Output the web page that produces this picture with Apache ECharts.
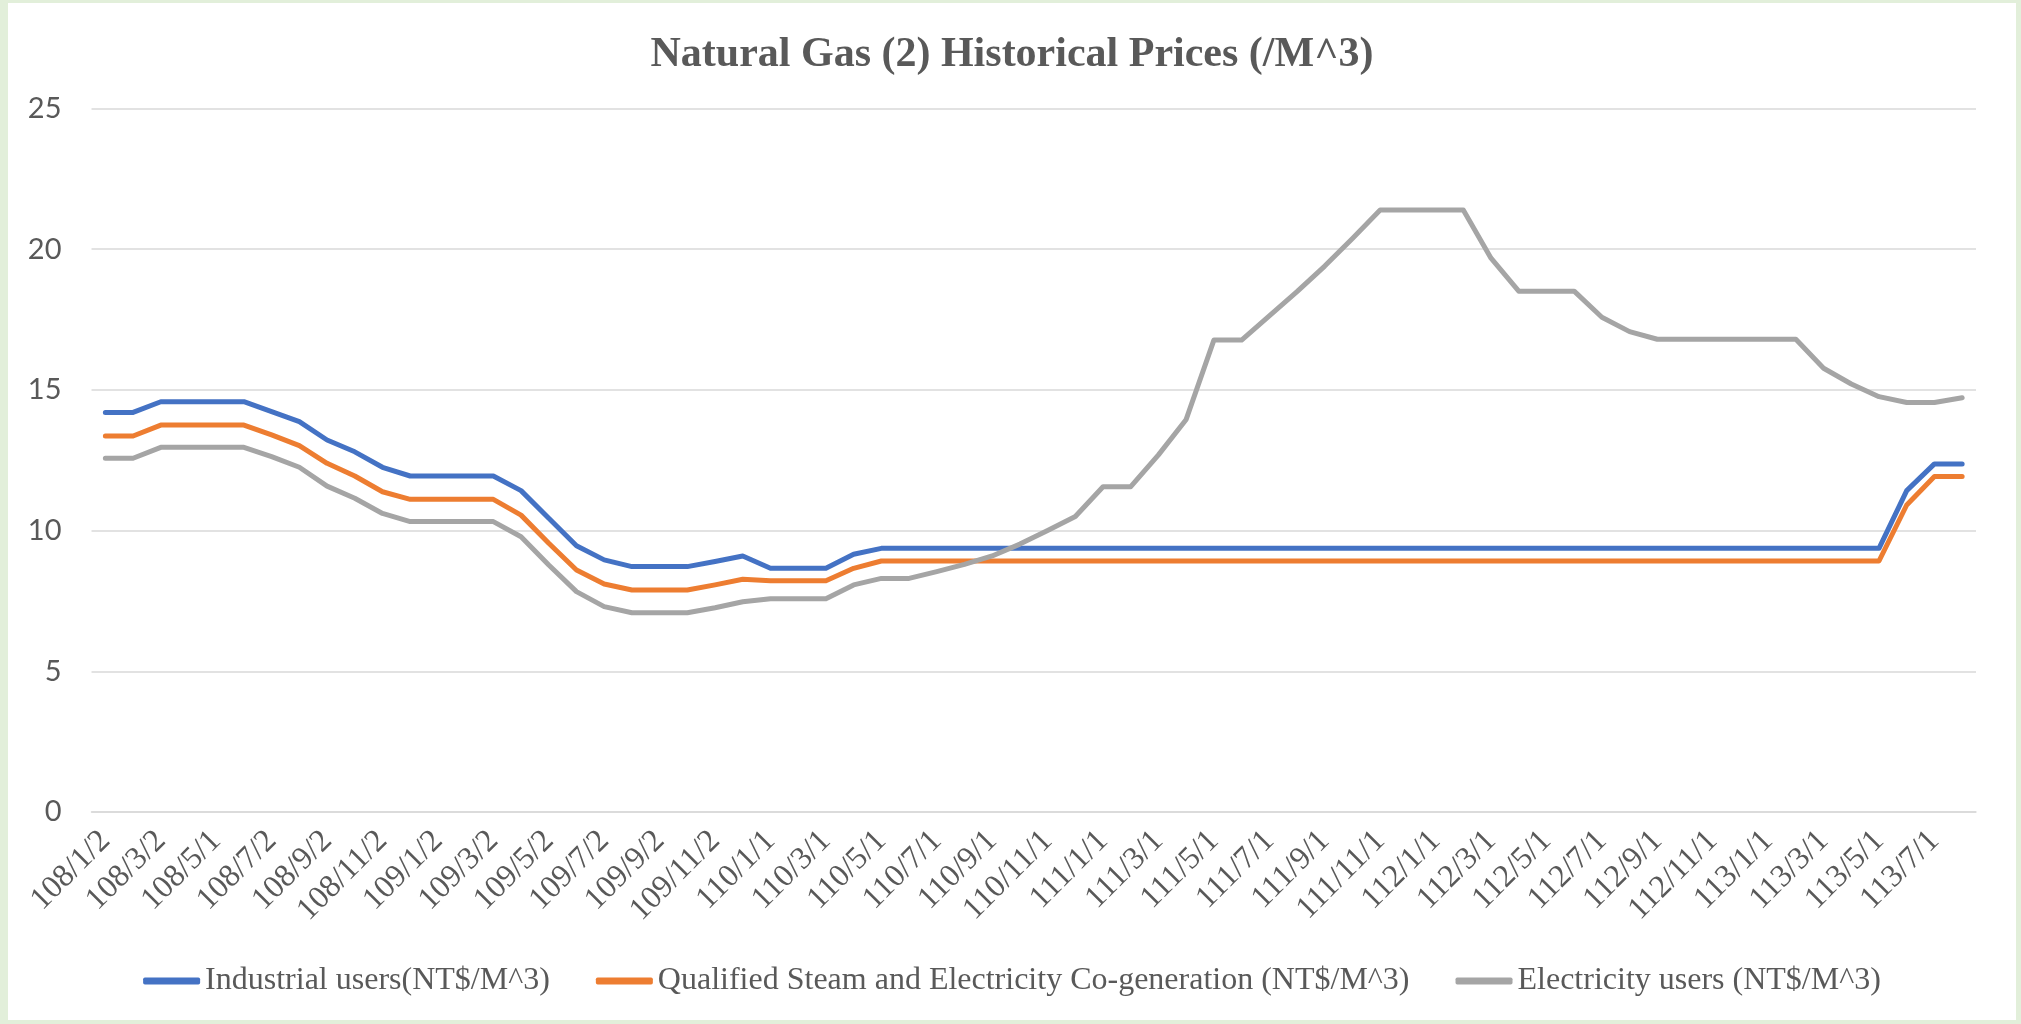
<!DOCTYPE html>
<html>
<head>
<meta charset="utf-8">
<title>Natural Gas (2) Historical Prices</title>
<script src="https://cdn.jsdelivr.net/npm/echarts@6/dist/echarts.min.js"></script>
<style>
  html, body { margin: 0; padding: 0; background: #e2efda; }
  #wrap { position: relative; width: 2021px; height: 1024px; }
  #chart { position: absolute; left: 8px; top: 3px; width: 2008px; height: 1017px; background: #fff; }
</style>
</head>
<body>
<div id="wrap"><div id="chart"></div></div>
<script>
// months, ROC calendar (108 = 2019)
const months = [
  '108/1/2', '108/2/1', '108/3/2', '108/4/1', '108/5/1', '108/6/1', '108/7/2', '108/8/1', '108/9/2', '108/10/1', '108/11/2', '108/12/2',
  '109/1/2', '109/2/1', '109/3/2', '109/4/1', '109/5/2', '109/6/1', '109/7/2', '109/8/1', '109/9/2', '109/10/1', '109/11/2', '109/12/1',
  '110/1/1', '110/2/1', '110/3/1', '110/4/1', '110/5/1', '110/6/1', '110/7/1', '110/8/1', '110/9/1', '110/10/1', '110/11/1', '110/12/1',
  '111/1/1', '111/2/1', '111/3/1', '111/4/1', '111/5/1', '111/6/1', '111/7/1', '111/8/1', '111/9/1', '111/10/1', '111/11/1', '111/12/1',
  '112/1/1', '112/2/1', '112/3/1', '112/4/1', '112/5/1', '112/6/1', '112/7/1', '112/8/1', '112/9/1', '112/10/1', '112/11/1', '112/12/1',
  '113/1/1', '113/2/1', '113/3/1', '113/4/1', '113/5/1', '113/6/1', '113/7/1', '113/8/1'
];

const industrial = [
  14.2, 14.2, 14.58, 14.58, 14.58, 14.58, 14.23, 13.87, 13.22, 12.8,
  12.25, 11.94, 11.94, 11.94, 11.94, 11.42, 10.44, 9.46, 8.96, 8.72,
  8.72, 8.72, 8.9, 9.1, 8.66, 8.66, 8.66, 9.16, 9.37, 9.37,
  9.37, 9.37, 9.37, 9.37, 9.37, 9.37, 9.37, 9.37, 9.37, 9.37,
  9.37, 9.37, 9.37, 9.37, 9.37, 9.37, 9.37, 9.37, 9.37, 9.37,
  9.37, 9.37, 9.37, 9.37, 9.37, 9.37, 9.37, 9.37, 9.37, 9.37,
  9.37, 9.37, 9.37, 9.37, 9.37, 11.42, 12.37, 12.37
];

const cogeneration = [
  13.36, 13.36, 13.75, 13.75, 13.75, 13.75, 13.4, 13.02, 12.39, 11.94,
  11.38, 11.11, 11.11, 11.11, 11.11, 10.55, 9.55, 8.6, 8.1, 7.89,
  7.89, 7.89, 8.07, 8.27, 8.22, 8.22, 8.22, 8.66, 8.92, 8.92,
  8.92, 8.92, 8.92, 8.92, 8.92, 8.92, 8.92, 8.92, 8.92, 8.92,
  8.92, 8.92, 8.92, 8.92, 8.92, 8.92, 8.92, 8.92, 8.92, 8.92,
  8.92, 8.92, 8.92, 8.92, 8.92, 8.92, 8.92, 8.92, 8.92, 8.92,
  8.92, 8.92, 8.92, 8.92, 8.92, 10.91, 11.92, 11.92
];

const electricity = [
  12.57, 12.57, 12.96, 12.96, 12.96, 12.96, 12.63, 12.25, 11.58, 11.15,
  10.61, 10.32, 10.32, 10.32, 10.32, 9.78, 8.78, 7.83, 7.3, 7.08,
  7.08, 7.08, 7.26, 7.47, 7.58, 7.58, 7.58, 8.07, 8.3, 8.3,
  8.54, 8.8, 9.1, 9.52, 10.0, 10.5, 11.56, 11.56, 12.69, 13.95,
  16.77, 16.77, 17.63, 18.49, 19.4, 20.38, 21.39, 21.39, 21.39, 21.39,
  19.68, 18.51, 18.51, 18.51, 17.58, 17.07, 16.8, 16.8, 16.8, 16.8,
  16.8, 16.8, 15.77, 15.21, 14.76, 14.55, 14.55, 14.72
];

const seriesNames = [
  'Industrial users(NT$/M^3)',
  'Qualified Steam and Electricity Co-generation (NT$/M^3)',
  'Electricity users (NT$/M^3)'
];
const colors = ['#4472c4', '#ed7d31', '#a5a5a5'];

const chart = echarts.init(document.getElementById('chart'));

function lineSeries(name, data, color) {
  return {
    name: name,
    type: 'line',
    data: data,
    symbol: 'none',
    // no smoothing, excel style straight segments
    lineStyle: { color: color, width: 5, cap: 'round', join: 'round' },
    itemStyle: { color: color },
    emphasis: { disabled: true }
  };
}

const option = {
  animation: false,
  color: colors,
  title: {
    text: 'Natural Gas (2) Historical Prices (/M^3)',
    left: 'center',
    top: 26,
    textStyle: {
      fontFamily: 'Liberation Serif',
      fontWeight: 'bold',
      fontSize: 42,
      color: '#595959'
    }
  },
  legend: {
    bottom: 18,
    left: 'center',
    icon: 'roundRect',
    itemWidth: 57,
    itemHeight: 7,
    itemGap: 46,
    textStyle: {
      fontFamily: 'Liberation Serif',
      fontSize: 32,
      color: '#595959'
    },
    data: seriesNames
  },
  grid: {
    left: 83.5,
    right: 40,
    top: 105.5,
    bottom: 208,
    containLabel: false
  },
  xAxis: {
    type: 'category',
    data: months,
    boundaryGap: true,
    axisLine: { show: true, lineStyle: { color: '#d9d9d9', width: 1.5 } },
    axisTick: { show: false },
    axisLabel: {
      interval: 1,
      rotate: 45,
      margin: 24,
      fontFamily: 'Liberation Serif',
      fontSize: 32,
      color: '#595959'
    }
  },
  yAxis: {
    type: 'value',
    min: 0,
    max: 25,
    interval: 5,
    axisLine: { show: false },
    axisTick: { show: false },
    axisLabel: {
      margin: 30,
      fontFamily: 'Lato',
      fontSize: 29,
      color: '#595959'
    },
    splitLine: { lineStyle: { color: '#d9d9d9', width: 1.5 } }
  },
  series: [
    lineSeries(seriesNames[0], industrial, colors[0]),
    lineSeries(seriesNames[1], cogeneration, colors[1]),
    lineSeries(seriesNames[2], electricity, colors[2])
  ]
};

chart.setOption(option);
</script>
</body>
</html>
